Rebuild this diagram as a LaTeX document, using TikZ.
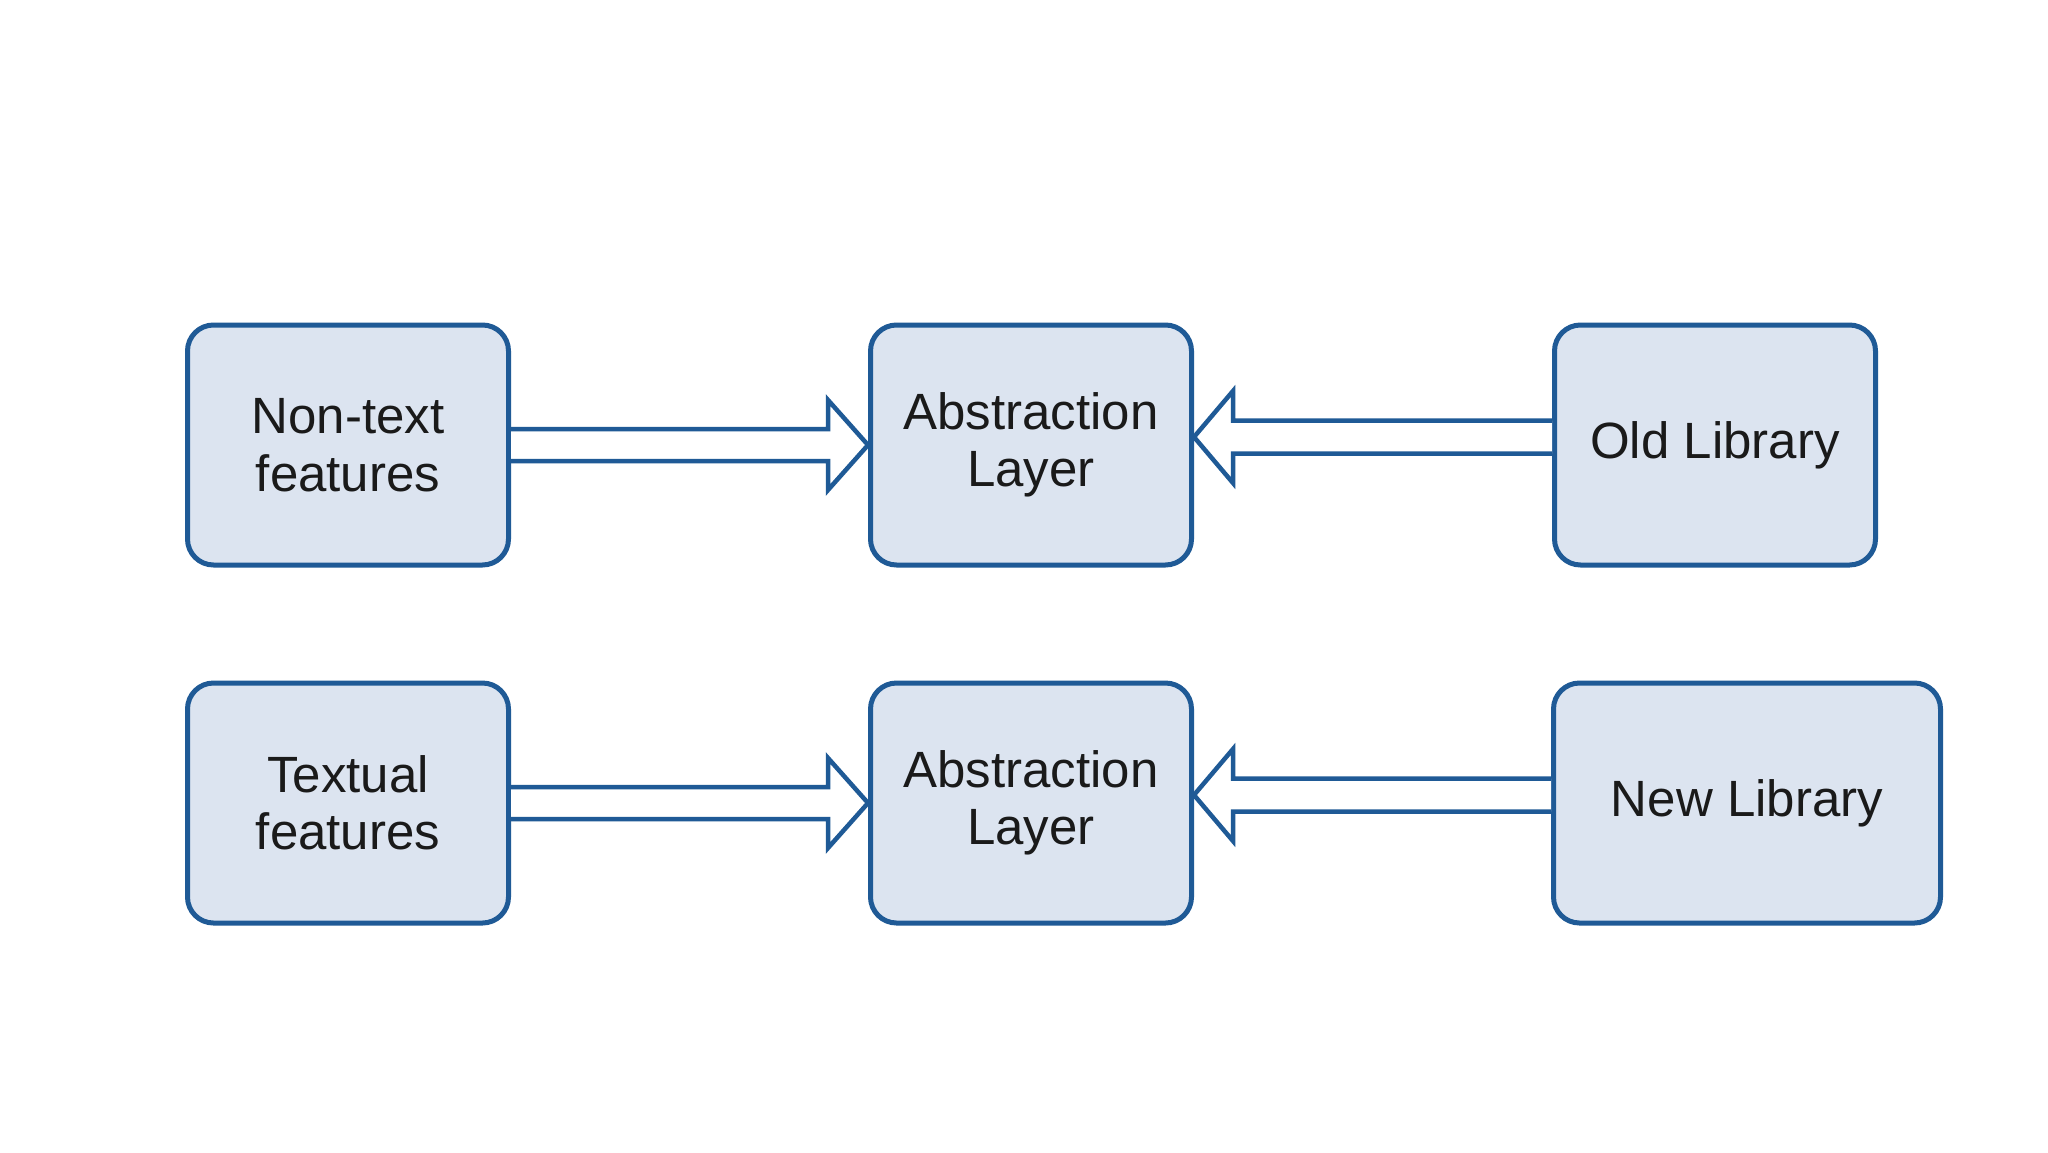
\documentclass[tikz,border=0pt]{standalone}
\usepackage{fontspec}
\newfontfamily\labfont{Liberation Sans}
\usetikzlibrary{calc}
\definecolor{boxline}{HTML}{1F5A96}
\definecolor{boxfill}{HTML}{DCE4F0}
\definecolor{txt}{HTML}{1A1A1A}
\tikzset{
  blk/.style={draw=boxline, fill=boxfill, line width=5pt, rounded corners=26pt,
    minimum width=321pt, minimum height=240pt, inner sep=0pt, align=center,
    text=txt, font=\labfont\fontsize{51pt}{57.5pt}\selectfont},
  hollow/.style={draw=boxline, fill=white, line width=4.5pt, line join=miter}
}
\begin{document}
\begin{tikzpicture}[x=1pt,y=-1pt]
\useasboundingbox (0,0) rectangle (2048,1152);
\fill[white] (0,0) rectangle (2048,1152);
\node[blk] (a1) at (348,445) {Non-text\\features};
\node[blk] (b1) at (1031,445) {Abstraction\\Layer};
\node[blk] (c1) at (1715,445) {Old Library};
\node[blk] (a2) at (348,803) {Textual\\features};
\node[blk] (b2) at (1031,803) {Abstraction\\Layer};
\node[blk, minimum width=387pt] (c2) at (1747,803) {New Library};
% right-pointing hollow arrows
\foreach \s/\t in {a1/b1,a2/b2}{
  \draw[hollow] ($(\s.east)+(0,-16)$) -- ($(\t.west)+(-40,-16)$) -- ($(\t.west)+(-40,-45)$)
    -- (\t.west) -- ($(\t.west)+(-40,45)$) -- ($(\t.west)+(-40,16)$) -- ($(\s.east)+(0,16)$);
}
% left-pointing hollow arrows
\foreach \s/\t in {c1/b1,c2/b2}{
  \draw[hollow] ($(\s.west)+(0,-24.5)$) -- ($(\t.east)+(39,-24.5)$) -- ($(\t.east)+(39,-54)$)
    -- ($(\t.east)+(0,-8)$) -- ($(\t.east)+(39,38)$) -- ($(\t.east)+(39,8.5)$) -- ($(\s.west)+(0,8.5)$);
}
\end{tikzpicture}
\end{document}
